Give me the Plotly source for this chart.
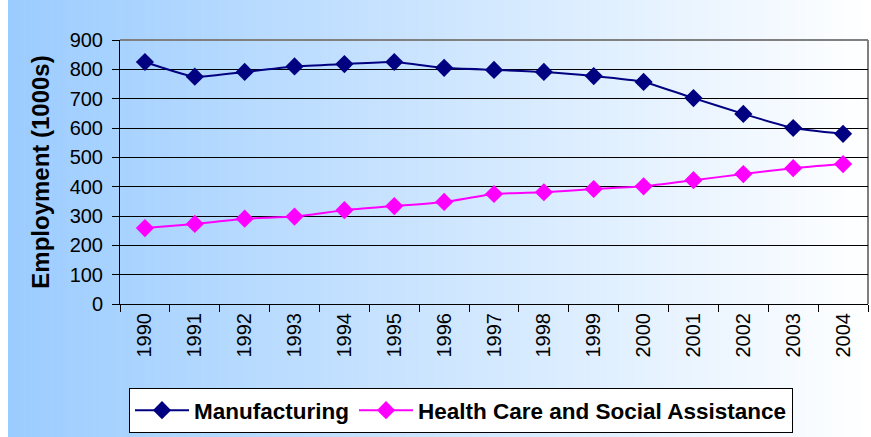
import plotly.graph_objects as go

years = [str(y) for y in range(1990, 2005)]
manufacturing = [825, 775, 791, 810, 818, 825, 805, 798, 791, 777, 757, 702, 648, 600, 580]
health = [259, 273, 291, 298, 320, 334, 348, 375, 381, 392, 401, 422, 443, 463, 477]

W, H = 871, 437
ML, MR, MT, MB = 120, 3, 40, 133
PW, PH = W - ML - MR, H - MT - MB

def px_to_paper_x(px):
    return (px - ML) / PW

def py_to_paper_y(py):
    return (H - MB - py) / PH

shapes = []
left_rgb = (155, 204, 255)
right_rgb = (255, 255, 255)
x_start, x_end = 8, W
n = 160
for i in range(n):
    a = x_start + (x_end - x_start) * i / n
    b = x_start + (x_end - x_start) * (i + 1) / n
    t = (i + 0.5) / n
    c = tuple(round(left_rgb[k] + (right_rgb[k] - left_rgb[k]) * t) for k in range(3))
    shapes.append(dict(type="rect", xref="paper", yref="paper",
                       x0=px_to_paper_x(a), x1=px_to_paper_x(b + 0.6),
                       y0=py_to_paper_y(H + 2), y1=py_to_paper_y(-2),
                       line=dict(width=0), fillcolor="rgb(%d,%d,%d)" % c, layer="below"))
# plot area border (gray top/right)
shapes.append(dict(type="line", xref="paper", yref="paper", x0=0, x1=1, y0=1, y1=1,
                   line=dict(color="#808080", width=2), layer="below"))
shapes.append(dict(type="line", xref="paper", yref="paper", x0=1, x1=1, y0=0, y1=1,
                   line=dict(color="#808080", width=2), layer="below"))

fig = go.Figure()
fig.add_trace(go.Scatter(x=years, y=manufacturing, name="Manufacturing",
                         mode="lines+markers", line=dict(color="#000080", width=2, shape="spline", smoothing=0.5),
                         marker=dict(symbol="diamond", size=14, color="#000080")))
fig.add_trace(go.Scatter(x=years, y=health, name="Health Care and Social Assistance",
                         mode="lines+markers", line=dict(color="#FF00FF", width=2, shape="spline", smoothing=0.5),
                         marker=dict(symbol="diamond", size=14, color="#FF00FF")))

fig.update_layout(
    width=W, height=H,
    margin=dict(l=ML, r=MR, t=MT, b=MB, pad=0, autoexpand=False),
    paper_bgcolor="white", plot_bgcolor="rgba(0,0,0,0)",
    font=dict(family="Arial, Liberation Sans, sans-serif", color="black"),
    shapes=shapes,
    showlegend=True,
    legend=dict(orientation="h", x=px_to_paper_x(129), y=py_to_paper_y(388),
                xanchor="left", yanchor="top", bgcolor="white",
                bordercolor="black", borderwidth=1,
                font=dict(size=22.5, family="Arial, Liberation Sans, sans-serif", weight="bold"),
                itemwidth=54, tracegroupgap=0),
    xaxis=dict(type="category", range=[-0.5, 14.5], showgrid=False, automargin=False,
               showline=True, linecolor="black", linewidth=1,
               ticks="outside", tickson="boundaries", ticklen=7, tickcolor="black",
               tickangle=-90, tickfont=dict(size=20)),
    yaxis=dict(range=[0, 900], dtick=100, showgrid=True, gridcolor="black", gridwidth=1,
               showline=True, linecolor="black", linewidth=1, zeroline=False, automargin=False,
               ticks="outside", ticklen=7, tickcolor="black", tickfont=dict(size=20),
               ticklabelstandoff=5,
               title=dict(text="<b>Employment (1000s)</b>", font=dict(size=24), standoff=13)),
)

fig.write_html("out.html", config={"displayModeBar": False},
               post_script="document.body.style.margin='0';document.body.style.overflow='hidden';")
